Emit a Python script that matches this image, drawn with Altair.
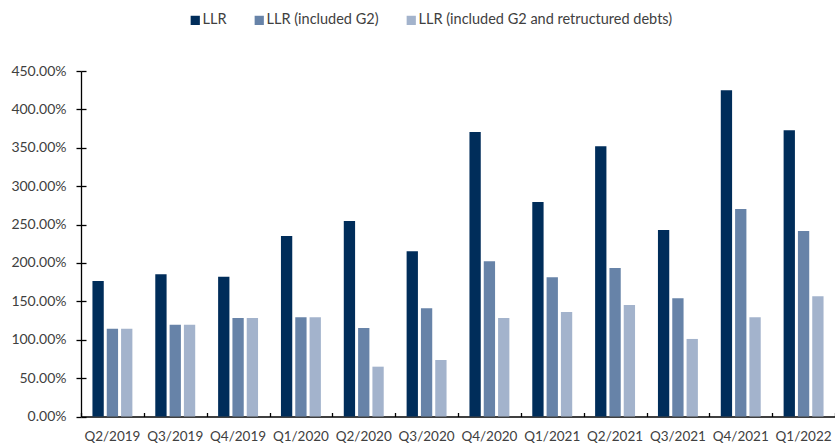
import altair as alt
import pandas as pd

# Quarterly loan-loss reserve coverage ratios (%)
quarters = ["Q2/2019", "Q3/2019", "Q4/2019", "Q1/2020", "Q2/2020", "Q3/2020",
            "Q4/2020", "Q1/2021", "Q2/2021", "Q3/2021", "Q4/2021", "Q1/2022"]
llr = [176.5, 185.2, 182.0, 235.0, 254.6, 215.2, 370.5, 279.4, 351.9, 242.9, 424.8, 372.7]
llr_g2 = [114.4, 119.6, 128.3, 129.2, 115.3, 140.9, 202.1, 181.3, 193.4, 153.9, 270.2, 241.6]
llr_g2_restr = [114.4, 119.6, 128.3, 129.2, 64.9, 73.6, 128.3, 136.1, 145.2, 101.0, 129.2, 156.5]

series = ["LLR", "LLR (included G2)", "LLR (included G2 and retructured debts)"]
colors = ["#002D5A", "#6783A8", "#A3B3CC"]
y_ticks = [0, 50, 100, 150, 200, 250, 300, 350, 400, 450]

rows = []
for name, vals in zip(series, [llr, llr_g2, llr_g2_restr]):
    for q, v in zip(quarters, vals):
        rows.append({"quarter": q, "series": name, "value": v})
df = pd.DataFrame(rows)

W, H = 754, 345.5
FONT = "Lato"
TXT = "#404040"

x_scale = alt.Scale(domain=quarters, paddingInner=0, paddingOuter=0)
y_scale = alt.Scale(domain=[0, 450], nice=False)
pct = "format(datum.value, '.2f') + '%'"

bars = alt.Chart(df).mark_bar().encode(
    x=alt.X("quarter:N", sort=quarters, scale=x_scale, title=None,
            axis=alt.Axis(orient="bottom", labelAngle=0, ticks=False,
                          labelPadding=13, domainColor="#000", domainWidth=1.3,
                          labelFont=FONT, labelFontSize=13.5, labelColor=TXT)),
    xOffset=alt.XOffset("series:N", sort=series,
                        scale=alt.Scale(paddingInner=0.21, paddingOuter=0.8)),
    y=alt.Y("value:Q", scale=y_scale, title=None,
            axis=alt.Axis(orient="left", values=y_ticks, labelExpr=pct, grid=False,
                          tickSize=5, tickColor="#000", tickWidth=1.3,
                          domainColor="#000", domainWidth=1.3, labelPadding=10,
                          labelFont=FONT, labelFontSize=14, labelColor=TXT)),
    color=alt.Color("series:N", sort=series,
                    scale=alt.Scale(domain=series, range=colors),
                    legend=alt.Legend(title=None, orient="none", direction="horizontal",
                                      columns=3, legendX=107, legendY=-58, padding=0,
                                      symbolType="square", symbolSize=85,
                                      symbolStrokeWidth=0, labelOffset=0,
                                      labelLimit=0, columnPadding=25,
                                      labelFont=FONT, labelFontSize=14.5,
                                      labelColor=TXT)),
)

# Inward tick marks: x ticks at category boundaries pointing up, y ticks pointing right
inner_ticks = alt.Chart(df).mark_bar(opacity=0).encode(
    x=alt.X("quarter:N", sort=quarters, scale=x_scale, title=None,
            axis=alt.Axis(orient="top", offset=-H, labels=False, domain=False,
                          tickBand="extent", tickSize=4, tickColor="#000",
                          tickWidth=1.3)),
    y=alt.Y("value:Q", scale=y_scale, title=None,
            axis=alt.Axis(orient="right", offset=-W, labels=False, domain=False,
                          grid=False, values=y_ticks, tickSize=5, tickColor="#000",
                          tickWidth=1.3)),
)

chart = alt.layer(bars, inner_ticks).resolve_axis(
    x="independent", y="independent"
).properties(
    width=W, height=H,
    autosize=alt.AutoSizeParams(type="none"),
    padding={"left": 81, "top": 71, "right": 0, "bottom": 27.5},
).configure_view(stroke=None)

chart.save("out.html", embed_options={"renderer": "svg", "actions": False})
